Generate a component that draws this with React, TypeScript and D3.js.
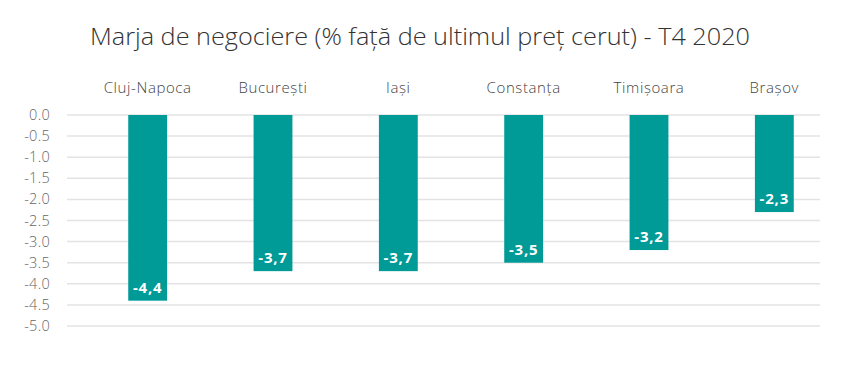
import React from "react";
import * as d3 from "d3";

const categories = ["Cluj-Napoca", "București", "Iași", "Constanța", "Timișoara", "Brașov"];
const values = [-4.4, -3.7, -3.7, -3.5, -3.2, -2.3];
const yTicks = [0, -0.5, -1, -1.5, -2, -2.5, -3, -3.5, -4, -4.5, -5];
const title = "Marja de negociere (% față de ultimul preț cerut) - T4 2020";

const W = 859, H = 384;
const left = 67, right = 820, top = 115, bottom = 326;

export default function App() {
  const x = d3.scaleBand<string>().domain(categories).range([85, 837]).paddingInner(0.69).paddingOuter(0.345);
  const y = d3.scaleLinear().domain([0, -5]).range([top, bottom]);
  const fmt = (v: number) => (v === 0 ? "0.0" : d3.format(".1f")(v).replace("−", "-"));
  const font = "'Open Sans', sans-serif";
  return (
    <svg width={W} height={H} style={{ position: "absolute", left: 0, top: 0, background: "#fff" }}>
      <text x={90} y={45} textLength={660} lengthAdjust="spacingAndGlyphs" fontFamily={font} fontWeight={300} fontSize={23} fill="#333">{title}</text>
      {yTicks.map((t) => (
        <g key={t}>
          <line x1={left} x2={right} y1={y(t)} y2={y(t)} stroke="#e3e3e3" strokeWidth={1.5} />
          <text x={50} y={y(t)} dy="0.35em" textAnchor="end" fontFamily={font} fontWeight={300} fontSize={14.5} letterSpacing={0.3} fill="#666">{fmt(t)}</text>
        </g>
      ))}
      {categories.map((c) => (
        <text key={c} x={x(c)! + x.bandwidth() / 2} y={93} textAnchor="middle" fontFamily={font} fontWeight={300} fontSize={15} letterSpacing={0.6} fill="#444">{c}</text>
      ))}
      {categories.map((c, i) => (
        <g key={c}>
          <rect x={x(c)!} y={y(0)} width={x.bandwidth()} height={y(values[i]) - y(0)} fill="#009a97" />
          <text x={x(c)! + x.bandwidth() / 2} y={y(values[i]) - 8} textAnchor="middle" fontFamily={font} fontWeight={700} fontSize={15} letterSpacing={0.8} fill="#fff">{d3.format(".1f")(values[i]).replace("−", "-").replace(".", ",")}</text>
        </g>
      ))}
    </svg>
  );
}
